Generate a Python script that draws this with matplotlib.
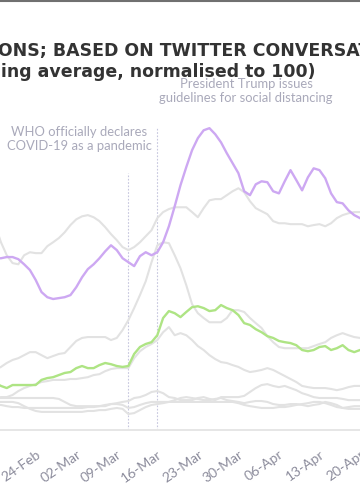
import numpy as np
import matplotlib
matplotlib.use("Agg")
import matplotlib.pyplot as plt
import matplotlib.dates as mdates
from matplotlib.lines import Line2D

plt.rcParams['font.family'] = ['Lato', 'DejaVu Sans']

# daily values, 17-Feb to 21-Apr 2020 (7-day rolling average, normalised to 100)
dates = np.arange(np.datetime64("2020-02-17"), np.datetime64("2020-04-22"))

purple = [56.9, 56.9, 57.3, 57.3, 56.6, 54.9, 53.0, 49.7, 45.7, 44.0,
          43.4, 43.7, 44.0, 44.7, 47.3, 50.6, 53.3, 54.9, 56.9, 59.2,
          61.2, 59.6, 56.9, 55.6, 54.3, 57.6, 58.9, 57.9, 58.9, 62.2,
          67.5, 74.1, 81.1, 87.1, 92.7, 96.7, 99.3, 100.0, 98.0, 95.3,
          91.7, 88.4, 85.1, 79.1, 77.8, 81.4, 82.4, 82.1, 79.1, 78.4,
          82.4, 86.1, 82.8, 79.4, 83.7, 86.7, 86.1, 83.4, 78.4, 75.5,
          75.1, 72.8, 71.2, 70.2, 69.5]

green = [15.6, 14.6, 13.9, 14.9, 14.9, 14.9, 14.9, 14.9, 16.6, 17.2,
         17.5, 18.2, 18.9, 19.2, 20.5, 21.2, 20.5, 20.5, 21.5, 22.2,
         21.8, 21.2, 20.9, 21.2, 25.2, 27.5, 28.5, 29.1, 31.4, 37.1,
         39.4, 38.7, 37.4, 39.1, 40.7, 41.0, 40.4, 39.4, 39.7, 41.4,
         40.4, 39.7, 38.1, 35.4, 34.8, 33.4, 32.4, 31.1, 30.5, 29.5,
         29.1, 28.8, 28.1, 26.5, 26.1, 26.5, 27.5, 27.8, 26.5, 27.1,
         28.1, 26.5, 25.8, 26.5, 26.5]

grey_a = [67.9, 62.2, 57.9, 55.3, 54.9, 57.9, 58.9, 58.6, 58.6, 60.9,
          62.2, 63.6, 65.5, 67.9, 69.8, 70.8, 71.2, 70.5, 69.2, 67.2,
          64.9, 62.9, 60.6, 59.6, 60.6, 62.2, 64.2, 66.2, 70.2, 72.2,
          73.2, 73.8, 73.8, 73.8, 72.2, 70.5, 73.5, 76.1, 76.5, 76.5,
          77.8, 79.1, 80.1, 78.8, 75.8, 73.5, 72.5, 71.5, 69.2, 68.5,
          68.5, 68.2, 68.2, 68.2, 67.5, 67.9, 68.2, 67.5, 68.5, 70.2,
          71.2, 71.8, 72.2, 72.2, 72.2]

grey_b = [19.9, 20.9, 22.2, 23.2, 23.8, 24.8, 25.8, 25.8, 24.8, 23.8,
          24.5, 25.2, 25.5, 27.5, 29.5, 30.5, 30.8, 30.8, 30.8, 30.8,
          29.8, 30.5, 33.1, 36.4, 40.4, 44.7, 49.3, 55.6, 61.2, 62.2,
          61.9, 57.9, 53.6, 48.0, 41.7, 38.7, 37.1, 35.7, 35.7, 35.7,
          37.1, 39.7, 39.7, 39.1, 37.1, 35.4, 33.8, 31.1, 29.1, 27.5,
          27.1, 27.1, 27.1, 27.1, 27.1, 27.8, 28.5, 29.1, 30.5, 31.4,
          32.1, 31.4, 30.8, 30.5, 29.8]

grey_c = [10.6, 10.9, 10.9, 11.6, 12.9, 13.9, 14.6, 15.2, 15.9, 16.2,
          16.6, 16.6, 16.6, 16.9, 16.9, 17.2, 17.5, 18.2, 18.5, 19.5,
          20.2, 20.5, 20.5, 20.5, 23.8, 26.1, 27.5, 28.5, 29.8, 32.4,
          34.1, 31.4, 32.1, 31.4, 29.8, 27.8, 26.5, 24.8, 23.5, 22.5,
          22.2, 21.5, 20.9, 19.9, 19.2, 19.5, 19.9, 20.5, 19.9, 18.9,
          17.9, 16.9, 15.9, 14.6, 14.2, 13.9, 13.9, 13.9, 13.6, 13.2,
          13.6, 14.2, 14.6, 14.6, 14.6]

grey_d = [10.6, 10.6, 10.6, 10.6, 10.6, 10.6, 10.6, 10.6, 10.6, 10.6,
          10.6, 10.3, 9.3, 8.3, 7.9, 7.9, 7.9, 7.9, 7.9, 7.9,
          8.6, 8.9, 9.3, 9.6, 10.6, 10.9, 11.6, 12.6, 12.9, 12.2,
          10.9, 10.6, 9.9, 9.9, 9.9, 10.6, 10.9, 10.3, 9.9, 10.9,
          10.9, 10.9, 10.9, 11.3, 12.6, 13.9, 14.9, 15.2, 14.6, 14.2,
          14.6, 13.9, 13.2, 12.2, 11.6, 10.9, 10.6, 10.6, 10.6, 10.6,
          10.3, 9.9, 9.9, 9.9, 9.9]

grey_e = [9.3, 9.3, 9.3, 9.3, 8.9, 7.9, 7.0, 6.3, 6.0, 6.0,
          6.0, 6.0, 6.0, 6.0, 6.0, 6.0, 6.3, 6.3, 6.6, 6.6,
          7.0, 7.3, 7.0, 5.3, 5.6, 6.6, 7.6, 8.3, 8.6, 8.9,
          9.3, 9.9, 10.6, 10.9, 10.6, 10.3, 9.9, 9.9, 10.3, 10.6,
          9.9, 9.6, 9.3, 8.9, 9.3, 9.6, 9.6, 9.3, 8.6, 8.3,
          8.3, 8.6, 8.6, 8.3, 7.9, 8.3, 8.6, 9.3, 8.9, 8.3,
          7.3, 7.0, 7.0, 7.0, 7.0]

grey_f = [8.3, 8.3, 7.9, 7.6, 7.6, 7.3, 7.3, 7.3, 7.3, 7.3,
          7.3, 7.3, 7.3, 7.3, 7.3, 7.3, 7.6, 7.6, 7.9, 8.3,
          8.6, 8.6, 8.3, 7.3, 7.6, 8.3, 8.9, 9.3, 9.3, 9.3,
          9.3, 9.3, 9.3, 9.3, 9.3, 9.3, 9.3, 9.3, 9.3, 9.3,
          9.3, 9.3, 8.9, 8.3, 7.9, 7.6, 7.3, 7.3, 7.3, 7.6,
          7.6, 7.9, 8.3, 8.6, 8.9, 9.3, 9.3, 8.9, 8.3, 7.6,
          7.3, 7.6, 7.9, 7.9, 7.9]

who_day = np.datetime64("2020-03-11")
trump_day = np.datetime64("2020-03-16")
tick_days = np.arange(np.datetime64("2020-02-24"), np.datetime64("2020-04-21"), 7)

title_cut = "TOPIC MENTI"
title_1 = "TOPIC MENTIONS; BASED ON TWITTER CONVERSATIONS"
title_2 = "(7-day rolling average, normalised to 100)"
who_text = "WHO officially declares\nCOVID-19 as a pandemic"
trump_text = "President Trump issues\nguidelines for social distancing"

fig = plt.figure(figsize=(3.6, 5.0), dpi=100)
fig.patch.set_facecolor("white")
ax = fig.add_axes([0, 0.14, 1, 0.664])

grey = "#e2e2e2"
for s in [grey_f, grey_e, grey_d, grey_c, grey_b, grey_a]:
    ax.plot(dates, s, color=grey, lw=1.5, solid_joinstyle="round", zorder=2)
ax.plot(dates, green, color="#aee484", lw=1.7, solid_joinstyle="round", zorder=3)
ax.plot(dates, purple, color="#cda8f2", lw=1.7, solid_joinstyle="round", zorder=4)

ax.vlines([who_day], 0, 85, color="#c6c6de", lw=0.8, linestyles=(0, (1.5, 1.5)), zorder=1)
ax.vlines([trump_day], 0, 100.3, color="#c6c6de", lw=0.8, linestyles=(0, (1.5, 1.5)), zorder=1)

x0 = mdates.date2num(trump_day) - 163 / 6
ax.set_xlim(x0, x0 + 60)
ax.set_ylim(0, 110)

for side in ["top", "left", "right"]:
    ax.spines[side].set_visible(False)
ax.spines["bottom"].set_color("#e6e6e6")
ax.spines["bottom"].set_linewidth(1.4)
ax.set_yticks([])
ax.set_xticks(tick_days)
ax.xaxis.set_major_formatter(mdates.DateFormatter("%d-%b"))
ax.tick_params(axis="x", length=0, pad=13, labelsize=10, labelcolor="#8c8c9c")
for lab in ax.get_xticklabels():
    lab.set_rotation(35)
    lab.set_ha("right")
    lab.set_rotation_mode("anchor")

title_font = dict(fontsize=12.5, fontweight="bold", color="#333333", family=["DejaVu Sans"])
renderer = fig.canvas.get_renderer()
probe = fig.text(0, 0, title_cut, **title_font)
cut_w = probe.get_window_extent(renderer).width
probe.remove()

fig.text(-(cut_w + 2) / fig.bbox.width, 1 - 56 / 500, title_1, va="baseline", ha="left", **title_font)
fig.text(315 / 360, 1 - 77 / 500, title_2, va="baseline", ha="right", **title_font)
fig.text(246 / 360, 1 - 102 / 500, trump_text, fontsize=9.4, color="#a9a9ba", ha="center", va="baseline", linespacing=1.25)
fig.text(79 / 360, 1 - 150 / 500, who_text, fontsize=9.4, color="#a9a9ba", ha="center", va="baseline", linespacing=1.25)

fig.add_artist(Line2D([0, 1], [0.998, 0.998], color="#707070", lw=1.5, transform=fig.transFigure))

fig.savefig("out.png", dpi=100)
